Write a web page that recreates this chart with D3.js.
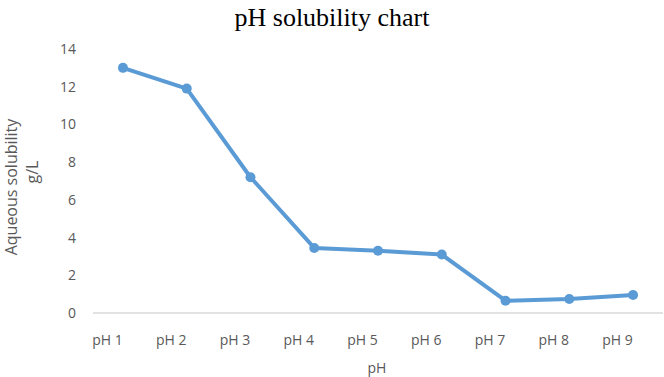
<!DOCTYPE html>
<html>
<head>
<meta charset="utf-8">
<script src="https://cdn.jsdelivr.net/npm/d3@7"></script>
<style>
  body { margin: 0; background: #fff; }
  svg text { font-family: "Open Sans", "Liberation Sans", sans-serif; fill: #595959; }
</style>
</head>
<body>
<svg id="chart" width="664" height="377"></svg>
<script>
// data
let categories = ["pH 1", "pH 2", "pH 3", "pH 4", "pH 5", "pH 6", "pH 7", "pH 8", "pH 9"];
let solubility = [13.0, 11.9, 7.2, 3.45, 3.3, 3.1, 0.65, 0.74, 0.95];
let yTicks = [0, 2, 4, 6, 8, 10, 12, 14];

let svg = d3.select("svg#chart");
let lineColor = "#5b9bd5";

let x = d3.scalePoint()
  .domain(categories)
  .range([93, 663])
  .padding(0.47);

let y = d3.scaleLinear()
  .domain([0, 14])
  .range([313, 49]);

// title
svg.append("text")
  .attr("x", 332)
  .attr("y", 26)
  .attr("text-anchor", "middle")
  .style("font-family", "'Liberation Serif', 'Times New Roman', serif")
  .style("font-size", "26px")
  .style("fill", "#000")
  .text("pH solubility chart");

// y axis (labels only)
let yAxis = svg.append("g")
  .attr("transform", "translate(76,0)")
  .call(d3.axisLeft(y).tickValues(yTicks).tickSize(0).tickPadding(0));
yAxis.select(".domain").remove();
yAxis.selectAll("text")
  .style("font-size", "14px")
  .style("fill", "#595959");

// x axis: baseline and labels
let xAxis = svg.append("g")
  .attr("transform", "translate(0," + y(0) + ")")
  .call(d3.axisBottom(x).tickSize(0).tickPadding(22));
xAxis.select(".domain").remove();
xAxis.selectAll("text")
  .attr("dx", "-16")
  .style("font-size", "14px")
  .style("fill", "#595959");

svg.append("line")
  .attr("x1", 93)
  .attr("x2", 663)
  .attr("y1", y(0))
  .attr("y2", y(0))
  .attr("stroke", "#d9d9d9")
  .attr("stroke-width", 1.5);

// axis titles
svg.append("text")
  .attr("x", 377)
  .attr("y", 373)
  .attr("text-anchor", "middle")
  .style("font-size", "14px")
  .text("pH");

let ytitle = svg.append("text")
  .attr("transform", "translate(17,187) rotate(-90)")
  .attr("text-anchor", "middle")
  .style("font-size", "16px");
ytitle.append("tspan").attr("x", 0).attr("dy", 0).text("Aqueous solubility");
ytitle.append("tspan").attr("x", 15).attr("dy", 21).text("g/L");

// series
let line = d3.line()
  .x(function(d, i) { return x(categories[i]); })
  .y(function(d) { return y(d); });

svg.append("path")
  .datum(solubility)
  .attr("d", line)
  .attr("fill", "none")
  .attr("stroke", lineColor)
  .attr("stroke-width", 4)
  .attr("stroke-linejoin", "round");

svg.append("g").selectAll("circle")
  .data(solubility)
  .enter().append("circle")
    .attr("cx", function(d, i) { return x(categories[i]); })
    .attr("cy", function(d) { return y(d); })
    .attr("r", 5)
    .attr("fill", lineColor);
</script>
</body>
</html>
